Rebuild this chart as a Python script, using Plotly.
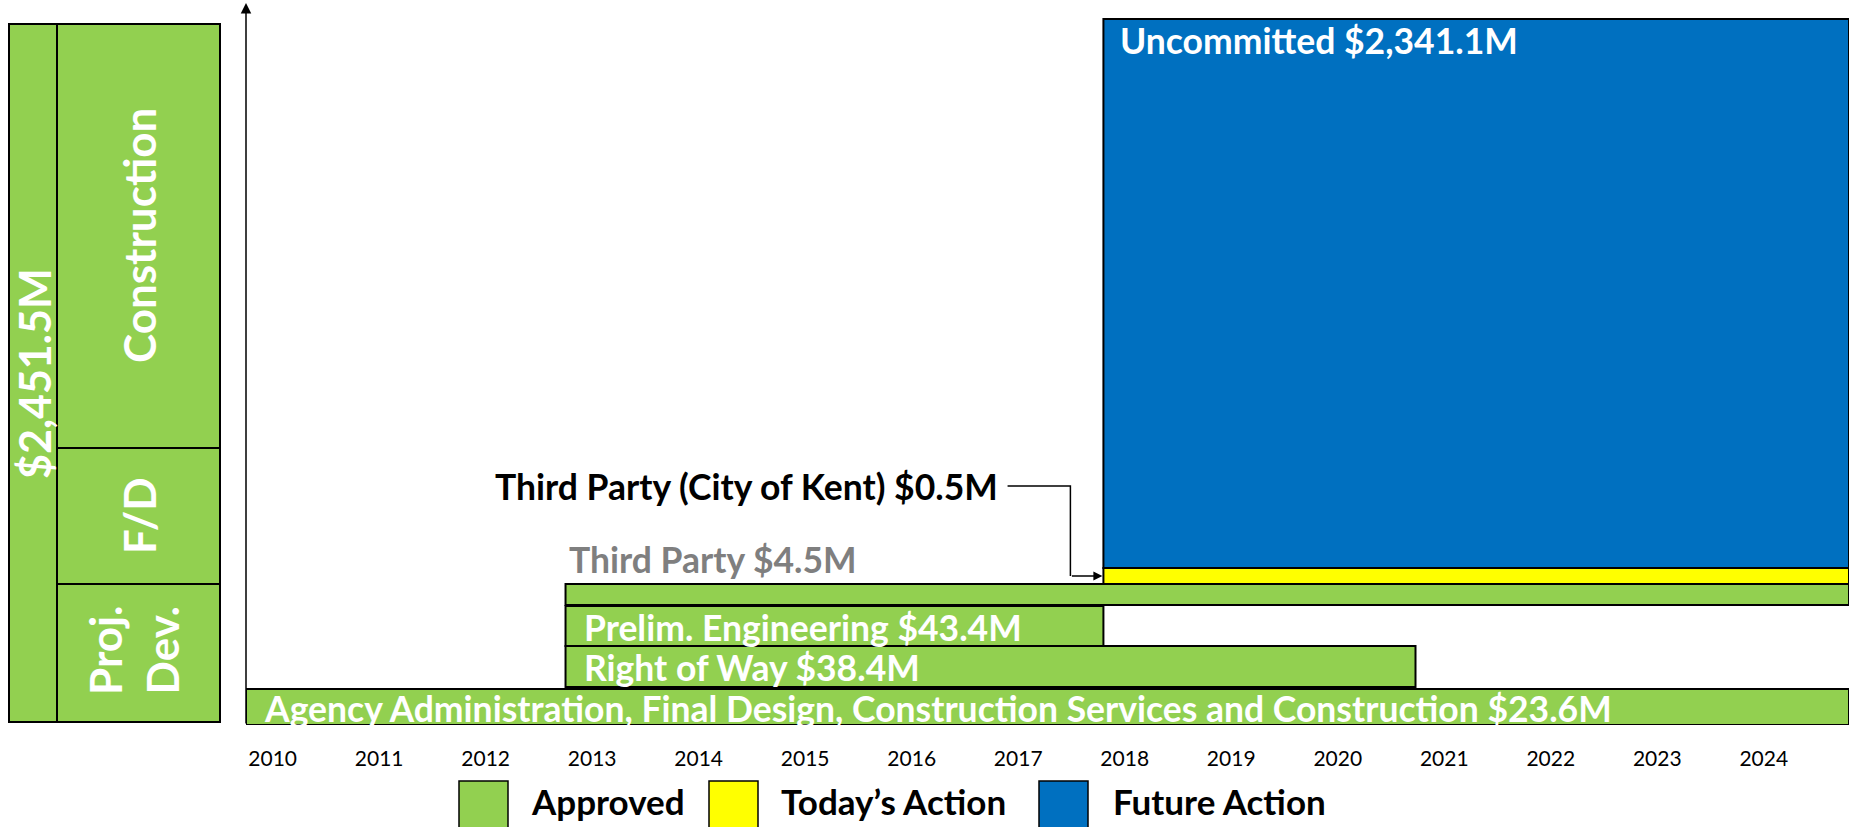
import plotly.graph_objects as go

# ---------------- data ----------------
items = [
    "Agency Administration, Final Design, Construction Services and Construction",
    "Right of Way",
    "Prelim. Engineering",
    "Third Party",
    "Third Party (City of Kent)",
    "Uncommitted",
]
amounts = [23.6, 38.4, 43.4, 4.5, 0.5, 2341.1]
start_year = [2009.75, 2012.75, 2012.75, 2012.75, 2017.8, 2017.8]
end_year = [2024.8, 2020.73, 2017.8, 2024.8, 2024.8, 2024.8]
status = ["Approved", "Approved", "Approved", "Approved", "Today’s Action", "Future Action"]
years = list(range(2010, 2025))
total_label = "$2,451.5M"
phases = ["Proj.<br>Dev.", "F/D", "Construction"]
legend_names = ["Approved", "Today’s Action", "Future Action"]

# ---------------- layout / style ----------------
W, H = 1849, 827
colors = {"Approved": "#92D050", "Today’s Action": "#FFFF00", "Future Action": "#0070C0"}
row_bottom = [0, 38, 79, 120, 141, 157]   # schematic stacking (not to scale)
row_height = [36, 41, 40, 21, 16, 549]
FONT = "Lato"
LABEL_SIZE = 35.5
X0, X1 = 2009.75, 2024.8
PLOT_L, PLOT_B, PLOT_T = 246, 725, 6


def pxx(p):
    return p / W


def pxy(p):
    return 1 - p / H


fig = go.Figure()

for i, it in enumerate(items):
    fig.add_trace(go.Bar(
        orientation="h",
        y=[row_bottom[i] + row_height[i] / 2],
        x=[end_year[i] - start_year[i]],
        base=[start_year[i]],
        width=[row_height[i]],
        marker=dict(color=colors[status[i]], line=dict(color="black", width=2)),
        showlegend=False,
        hoverinfo="skip",
    ))

annotations = []
shapes = []


def lab(i):
    return f"{items[i]} ${amounts[i]:,.1f}M"


# labels inside bars
for i in (0, 1, 2):
    annotations.append(dict(
        x=start_year[i] + 0.15, y=row_bottom[i] + row_height[i] / 2 - 1,
        xref="x", yref="y", text=f"<b>{lab(i)}</b>", showarrow=False,
        xanchor="left", yanchor="middle",
        font=dict(family=FONT, size=LABEL_SIZE, color="white")))

# third party (gray, above bar)
annotations.append(dict(
    x=start_year[3] + 0.01, y=row_bottom[3] + row_height[3] + 25,
    xref="x", yref="y", text=f"<b>{lab(3)}</b>", showarrow=False,
    xanchor="left", yanchor="middle",
    font=dict(family=FONT, size=LABEL_SIZE, color="#7F7F7F")))

# uncommitted (inside top-left)
annotations.append(dict(
    x=start_year[5] + 0.14, y=row_bottom[5] + row_height[5] - 21,
    xref="x", yref="y", text=f"<b>{lab(5)}</b>", showarrow=False,
    xanchor="left", yanchor="middle",
    font=dict(family=FONT, size=LABEL_SIZE, color="white")))

# city of Kent callout
kent_y = 239
kent_x_end = 2016.83
annotations.append(dict(
    x=kent_x_end, y=kent_y, xref="x", yref="y", text=f"<b>{lab(4)}</b>",
    showarrow=False, xanchor="right", yanchor="middle",
    font=dict(family=FONT, size=LABEL_SIZE, color="black")))
elbow_x = start_year[4] - 0.31
target_y = row_bottom[4] + row_height[4] / 2
shapes.append(dict(type="path", xref="x", yref="y",
                   path=f"M {kent_x_end + 0.07},{kent_y} L {elbow_x},{kent_y} L {elbow_x},{target_y}",
                   line=dict(color="black", width=1.5)))
annotations.append(dict(x=start_year[4] - 0.01, y=target_y, ax=elbow_x, ay=target_y,
                        xref="x", yref="y", axref="x", ayref="y", text="",
                        showarrow=True, arrowhead=2, arrowsize=1.2, arrowwidth=1.5,
                        arrowcolor="black"))

# vertical axis arrow
annotations.append(dict(x=X0, y=PLOT_B - 3, ax=X0, ay=0, xref="x", yref="y",
                        axref="x", ayref="y", text="", showarrow=True,
                        arrowhead=2, arrowsize=1.4, arrowwidth=1.5, arrowcolor="black"))

# ---------------- left panel ----------------
green = colors["Approved"]
lp = dict(x0=pxx(9), x1=pxx(220), xm=pxx(57), y0=pxy(722), y1=pxy(24), ya=pxy(584), yb=pxy(448))
shapes.append(dict(type="rect", xref="paper", yref="paper", x0=lp["x0"], x1=lp["xm"],
                   y0=lp["y0"], y1=lp["y1"], fillcolor=green, line=dict(color="black", width=2)))
for (a, b) in ((lp["y0"], lp["ya"]), (lp["ya"], lp["yb"]), (lp["yb"], lp["y1"])):
    shapes.append(dict(type="rect", xref="paper", yref="paper", x0=lp["xm"], x1=lp["x1"],
                       y0=a, y1=b, fillcolor=green, line=dict(color="black", width=2)))

annotations.append(dict(x=pxx(34), y=pxy(374), xref="paper", yref="paper",
                        text=f"<b>{total_label}</b>", textangle=-90, showarrow=False,
                        xanchor="center", yanchor="middle",
                        font=dict(family=FONT, size=43, color="white")))
phase_centers = [pxy(650), pxy(516), pxy(236)]
phase_x = [pxx(133), pxx(139), pxx(139)]
for name, xc, yc in zip(phases, phase_x, phase_centers):
    annotations.append(dict(x=xc, y=yc, xref="paper", yref="paper",
                            text=f"<b>{name}</b>", textangle=-90, showarrow=False,
                            xanchor="center", yanchor="middle",
                            font=dict(family=FONT, size=44, color="white")))

# ---------------- custom legend ----------------
leg_box_x = [459, 709, 1039]
leg_text_x = [529, 779, 1111]
for name, bx, tx in zip(legend_names, leg_box_x, leg_text_x):
    shapes.append(dict(type="rect", xref="paper", yref="paper", x0=pxx(bx), x1=pxx(bx + 49),
                       y0=pxy(830), y1=pxy(781), fillcolor=colors[name],
                       line=dict(color="black", width=1.5)))
    annotations.append(dict(x=pxx(tx), y=pxy(801), xref="paper", yref="paper",
                            text=f"<b>{name}</b>", showarrow=False, xanchor="left",
                            yanchor="middle", font=dict(family=FONT, size=35, color="black")))

fig.update_layout(
    width=W, height=H,
    margin=dict(l=0, r=0, t=0, b=0),
    paper_bgcolor="white", plot_bgcolor="white",
    barmode="overlay",
    shapes=shapes, annotations=annotations,
    xaxis=dict(domain=[pxx(PLOT_L), 1], range=[X0, X1], tickmode="array",
               tickvals=years, ticktext=[str(y) for y in years], showgrid=False,
               zeroline=False, showline=False, ticks="", ticklabelstandoff=19,
               tickfont=dict(family=FONT, size=21, color="black")),
    yaxis=dict(domain=[pxy(PLOT_B), pxy(PLOT_T)], range=[0, PLOT_B - PLOT_T],
               showgrid=False, zeroline=False, showline=False, showticklabels=False),
)

fig.write_html(
    "out.html",
    config={"displayModeBar": False},
    post_script="document.body.style.margin='0px';document.body.style.overflow='hidden';",
)
